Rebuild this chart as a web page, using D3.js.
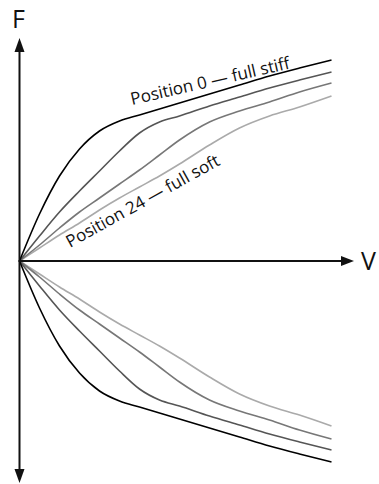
<!DOCTYPE html>
<html><head><meta charset="utf-8">
<script src="https://cdnjs.cloudflare.com/ajax/libs/d3/7.8.5/d3.min.js"></script>
<style>
  body { margin: 0; background: #fff; }
  svg { display: block; font-family: "Open Sans", sans-serif; }
</style>
</head>
<body>
<div id="chart"></div>
<script>
// V positions (same for every curve) and F values per curve
const vPts = [0, 20, 40, 60, 80, 100, 120, 140, 160, 190, 220, 250, 280, 312];
const fStiff = [0, 47, 85, 112, 130, 140, 146, 152, 158, 167, 176, 185, 193, 201];
const fMid1  = [0, 25, 49, 70, 90, 110, 128, 139, 145, 155, 164, 173, 181, 189];
const fMid2  = [0, 16, 33, 49, 63, 77, 91, 106, 121, 139, 150, 159, 169, 178];
const fSoft  = [0, 13, 26, 38, 51, 63, 74, 85, 97, 116, 133, 145, 154, 165];
const curveColors = ["#000", "#555", "#777", "#aaa"];
const labelStiff = "Position 0 — full stiff";
const labelSoft = "Position 24 — full soft";

const W = 379, H = 484;
const svg = d3.select("#chart").append("svg").attr("width", W).attr("height", H);

const x = d3.scaleLinear().domain([0, 312]).range([19.5, 331.5]);
const y = d3.scaleLinear().domain([-222, 222]).range([483, 39]);

const series = [fStiff, fMid1, fMid2, fSoft];
const line = d3.line().x(d => x(d[0])).y(d => y(d[1])).curve(d3.curveMonotoneX);

// draw lighter ones first so black sits on top
series.slice().reverse().forEach((s, ri) => {
  const i = series.length - 1 - ri;
  [1, -1].forEach(sign => {
    svg.append("path")
      .attr("d", line(vPts.map((v, k) => [v, sign * s[k]])))
      .attr("fill", "none")
      .attr("stroke", curveColors[i])
      .attr("stroke-width", 1.6);
  });
});

// axes
const ax = svg.append("g").attr("stroke", "#111").attr("stroke-width", 2);
ax.append("line").attr("x1", x(0)).attr("x2", x(0)).attr("y1", 50).attr("y2", 472);
ax.append("line").attr("x1", x(0) - 1).attr("x2", 343).attr("y1", y(0)).attr("y2", y(0));

const heads = svg.append("g").attr("fill", "#111");
const x0 = x(0), y0 = y(0);
heads.append("path").attr("d", `M${x0},38 L${x0 - 5},52 L${x0 + 5},52 Z`);
heads.append("path").attr("d", `M${x0},483 L${x0 - 5},469 L${x0 + 5},469 Z`);
heads.append("path").attr("d", `M354,${y0} L341,${y0 - 5} L341,${y0 + 5} Z`);

svg.append("text").attr("x", 12).attr("y", 28).attr("font-size", 25).attr("fill", "#111").text("F");
svg.append("text").attr("x", 361).attr("y", 270).attr("font-size", 25).attr("fill", "#111").text("V");

svg.append("text")
  .attr("transform", "translate(132,105) rotate(-13)")
  .attr("font-size", 17).attr("fill", "#111")
  .text(labelStiff);
svg.append("text")
  .attr("transform", "translate(70,248) rotate(-29)")
  .attr("font-size", 17).attr("fill", "#111")
  .text(labelSoft);
</script>
</body></html>
